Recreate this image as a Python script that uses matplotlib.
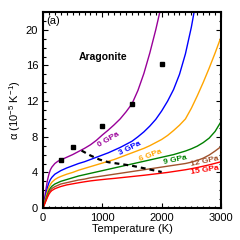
import numpy as np
import matplotlib
matplotlib.use('Agg')
import matplotlib.pyplot as plt
from matplotlib.ticker import MultipleLocator

plt.rcParams['font.family'] = ['Liberation Sans', 'DejaVu Sans']
plt.rcParams['mathtext.fontset'] = 'custom'
plt.rcParams['mathtext.rm'] = 'Liberation Sans'

# thermal expansion curves (T in K, alpha in 1e-5/K)
T = [0, 25, 50, 75, 100, 125, 150, 200, 250, 300, 400, 500, 600, 700, 800, 900,
     1000, 1100, 1200, 1300, 1400, 1500, 1600, 1700, 1800, 1900, 2000, 2100,
     2200, 2300, 2400, 2500, 2600, 2700, 2800, 2900, 3000]
a_0gpa = [0, 1.0, 2.1, 3.1, 3.8, 4.3, 4.6, 5.0, 5.25, 5.4, 5.7, 6.0, 6.35, 6.7,
          7.1, 7.6, 8.2, 8.75, 9.35, 10.0, 10.8, 11.7, 13.2, 15.1, 17.4, 20.0, 22.9]
a_3gpa = [0, 0.75, 1.55, 2.3, 2.85, 3.2, 3.45, 3.8, 4.0, 4.2, 4.5, 4.75, 5.0, 5.2,
          5.45, 5.7, 5.95, 6.2, 6.5, 6.8, 7.15, 7.5, 8.0, 8.55, 9.2, 9.95, 10.9,
          12.0, 13.3, 15.0, 17.3, 20.3, 24.0]
a_6gpa = [0, 0.6, 1.25, 1.85, 2.35, 2.65, 2.9, 3.2, 3.4, 3.55, 3.8, 4.0, 4.25, 4.45,
          4.65, 4.85, 5.05, 5.25, 5.45, 5.7, 5.95, 6.2, 6.45, 6.7, 7.0, 7.35, 7.7,
          8.15, 8.7, 9.3, 10.0, 11.2, 12.6, 14.1, 15.7, 17.4, 19.2]
a_9gpa = [0, 0.5, 1.0, 1.5, 1.95, 2.25, 2.45, 2.7, 2.85, 3.0, 3.2, 3.4, 3.6, 3.75,
          3.9, 4.05, 4.2, 4.35, 4.5, 4.65, 4.8, 4.95, 5.1, 5.25, 5.4, 5.55, 5.7,
          5.85, 6.0, 6.2, 6.4, 6.65, 6.95, 7.35, 7.85, 8.6, 9.7]
a_12gpa = [0, 0.45, 0.9, 1.35, 1.75, 2.0, 2.2, 2.4, 2.55, 2.7, 2.85, 3.0, 3.15, 3.25,
           3.4, 3.5, 3.6, 3.7, 3.8, 3.9, 4.0, 4.1, 4.2, 4.3, 4.4, 4.5, 4.6, 4.7,
           4.8, 4.9, 5.0, 5.15, 5.35, 5.6, 5.95, 6.4, 6.9]
a_15gpa = [0, 0.4, 0.8, 1.2, 1.55, 1.8, 1.97, 2.17, 2.3, 2.42, 2.6, 2.72, 2.84, 2.95,
           3.05, 3.13, 3.2, 3.27, 3.33, 3.4, 3.47, 3.54, 3.61, 3.68, 3.76, 3.84,
           3.92, 4.0, 4.1, 4.2, 4.3, 4.42, 4.55, 4.7, 4.85, 5.02, 5.2]

curves = [(a_0gpa, '#990099', '0 GPa'), (a_3gpa, '#0000ff', '3 GPa'),
          (a_6gpa, '#ffa500', '6 GPa'), (a_9gpa, '#008000', '9 GPa'),
          (a_12gpa, '#a0522d', '12 GPa'), (a_15gpa, '#ff0000', '15 GPa')]

# experiment (squares) and dashed reference
T_exp = [300, 500, 1000, 1500, 2000]
a_exp = [5.4, 6.9, 9.2, 11.7, 16.2]
T_dash = [650, 800, 950, 1100, 1300, 1500, 1750, 2000]
a_dash = [6.45, 5.9, 5.45, 5.15, 4.95, 4.75, 4.4, 4.05]

# label positions / rotations
lab_pos = [(1110, 7.7, 30), (1460, 6.7, 26), (1810, 5.9, 20),
           (2230, 5.35, 12), (2720, 5.2, 12), (2720, 4.2, 9)]

fig = plt.figure(figsize=(2.4, 2.4), dpi=100)
ax = fig.add_axes([0.179, 0.133, 0.742, 0.817])

for (a, c, name), (lx, ly, rot) in zip(curves, lab_pos):
    ax.plot(T[:len(a)], a, color=c, lw=1.0)
    ax.text(lx, ly, name, color=c, fontsize=6, fontweight='bold',
            rotation=rot, ha='center', va='center')

ax.plot(T_dash, a_dash, color='black', lw=1.6, ls=(0, (2.2, 1.8)))
ax.plot(T_exp, a_exp, 's', color='black', ms=3)

ax.text(1010, 17.0, 'Aragonite', fontsize=7.5, fontweight='bold', ha='center', va='center')
ax.text(60, 21.0, '(a)', fontsize=8, ha='left', va='center')

ax.set_xlim(0, 3000)
ax.set_ylim(0, 22)
ax.xaxis.set_major_locator(MultipleLocator(1000))
ax.xaxis.set_minor_locator(MultipleLocator(100))
ax.yaxis.set_major_locator(MultipleLocator(4))
ax.yaxis.set_minor_locator(MultipleLocator(1))
ax.tick_params(which='both', direction='in', top=True, right=True, labelsize=8, width=0.8)
ax.tick_params(which='major', length=3.5)
ax.tick_params(which='minor', length=1.8)
for s in ax.spines.values():
    s.set_linewidth(1.5)

ax.set_xlabel('Temperature (K)', fontsize=8, labelpad=1)
ax.set_ylabel('α (10$^{-5}$ K$^{-1}$)', fontsize=8, labelpad=2)

fig.savefig('out.png', dpi=100)
